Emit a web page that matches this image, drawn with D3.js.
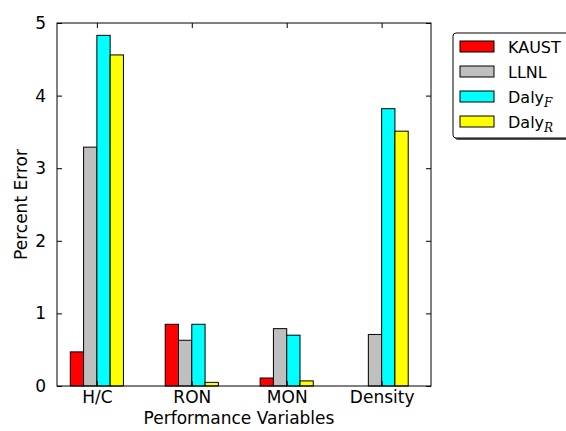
<!DOCTYPE html>
<head>
  <meta charset="utf-8">
  <title>Percent Error</title>
  <script src="https://d3js.org/d3.v7.min.js"></script>
  <style>
  body { margin: 0; background: white; }
  text { font-family: "DejaVu Sans", sans-serif; }
  </style>
</head>
<body>
  <script>

    // Data
    var categories = ["H/C", "RON", "MON", "Density"];
    var kaust = [0.47, 0.85, 0.11, 0.0];
    var llnl = [3.29, 0.63, 0.79, 0.71];
    var dalyF = [4.83, 0.85, 0.70, 3.82];
    var dalyR = [4.56, 0.05, 0.07, 3.51];
    var yTicks = [0, 1, 2, 3, 4, 5];

    var series = [
      {name: "KAUST", sub: null, color: "#ff0000", values: kaust},
      {name: "LLNL", sub: null, color: "#bfbfbf", values: llnl},
      {name: "Daly", sub: "F", color: "#00ffff", values: dalyF},
      {name: "Daly", sub: "R", color: "#ffff00", values: dalyR}
    ];

    var svg = d3.select("body").append("svg")
      .attr("width", 566)
      .attr("height", 431);

    // plot area edges
    var pLeft = 57, pRight = 431, pTop = 23, pBottom = 386;
    var barW = 0.14;

    // Scales
    var x = d3.scaleLinear().domain([-0.42, 3.52]).range([pLeft, pRight]);
    var y = d3.scaleLinear().domain([0, 5]).range([pBottom, pTop]);

    // Bars
    series.forEach(function(s, i) {
      svg.selectAll(".bar" + i)
        .data(s.values)
        .enter().append("rect")
        .attr("class", "bar" + i)
        .attr("x", function(d, j) { return x(j + (i - 2) * barW); })
        .attr("width", x(barW) - x(0))
        .attr("y", function(d) { return y(d); })
        .attr("height", function(d) { return pBottom - y(d); })
        .attr("fill", s.color)
        .attr("stroke", "black")
        .attr("stroke-width", 1);
    });

    // Axes frame
    svg.append("rect")
      .attr("x", pLeft).attr("y", pTop)
      .attr("width", pRight - pLeft).attr("height", pBottom - pTop)
      .attr("fill", "none").attr("stroke", "black").attr("stroke-width", 1);

    // Bottom / top axes (ticks inward)
    var xb = svg.append("g")
      .attr("transform", "translate(0," + pBottom + ")")
      .call(d3.axisBottom(x).tickValues(d3.range(categories.length))
        .tickFormat(function(d) { return categories[d]; })
        .tickSizeInner(-5).tickSizeOuter(0).tickPadding(5));
    var xt = svg.append("g")
      .attr("transform", "translate(0," + pTop + ")")
      .call(d3.axisTop(x).tickValues(d3.range(categories.length))
        .tickFormat("").tickSizeInner(-5).tickSizeOuter(0));

    // Left / right axes
    var yl = svg.append("g")
      .attr("transform", "translate(" + pLeft + ",0)")
      .call(d3.axisLeft(y).tickValues(yTicks).tickFormat(d3.format("d"))
        .tickSizeInner(-5).tickSizeOuter(0).tickPadding(11));
    var yr = svg.append("g")
      .attr("transform", "translate(" + pRight + ",0)")
      .call(d3.axisRight(y).tickValues(yTicks).tickFormat("")
        .tickSizeInner(-5).tickSizeOuter(0));

    [xb, xt, yl, yr].forEach(function(g) {
      g.select(".domain").remove();
      g.selectAll("line").attr("stroke", "black");
      g.selectAll("text").attr("font-size", 17)
        .attr("font-family", "DejaVu Sans").attr("fill", "black");
    });

    // Axis labels
    svg.append("text")
      .attr("x", (pLeft + pRight) / 2 - 5)
      .attr("y", 424)
      .attr("text-anchor", "middle")
      .attr("font-size", 17)
      .text("Performance Variables");

    svg.append("text")
      .attr("transform", "translate(27," + ((pTop + pBottom) / 2) + ") rotate(-90)")
      .attr("text-anchor", "middle")
      .attr("font-size", 17)
      .text("Percent Error");

    // Legend
    var lg = svg.append("g");
    lg.append("rect")
      .attr("x", 455).attr("y", 35)
      .attr("width", 130).attr("height", 105)
      .attr("rx", 3)
      .attr("fill", "#555");
    lg.append("rect")
      .attr("x", 453).attr("y", 33)
      .attr("width", 130).attr("height", 105)
      .attr("rx", 3)
      .attr("fill", "white").attr("stroke", "black").attr("stroke-width", 1);

    series.forEach(function(s, i) {
      var cy = 46.5 + i * 25;
      lg.append("rect")
        .attr("x", 460).attr("y", cy - 5.5)
        .attr("width", 34).attr("height", 11)
        .attr("fill", s.color).attr("stroke", "black").attr("stroke-width", 1);
      var t = lg.append("text")
        .attr("x", 508).attr("y", cy + 6)
        .attr("font-size", 16)
        .text(s.name);
      if (s.sub) {
        t.append("tspan")
          .attr("dy", 4)
          .attr("font-family", "DejaVu Serif")
          .attr("font-style", "italic")
          .attr("font-size", 12)
          .text(s.sub);
      }
    });

  </script>
</body>
</html>
